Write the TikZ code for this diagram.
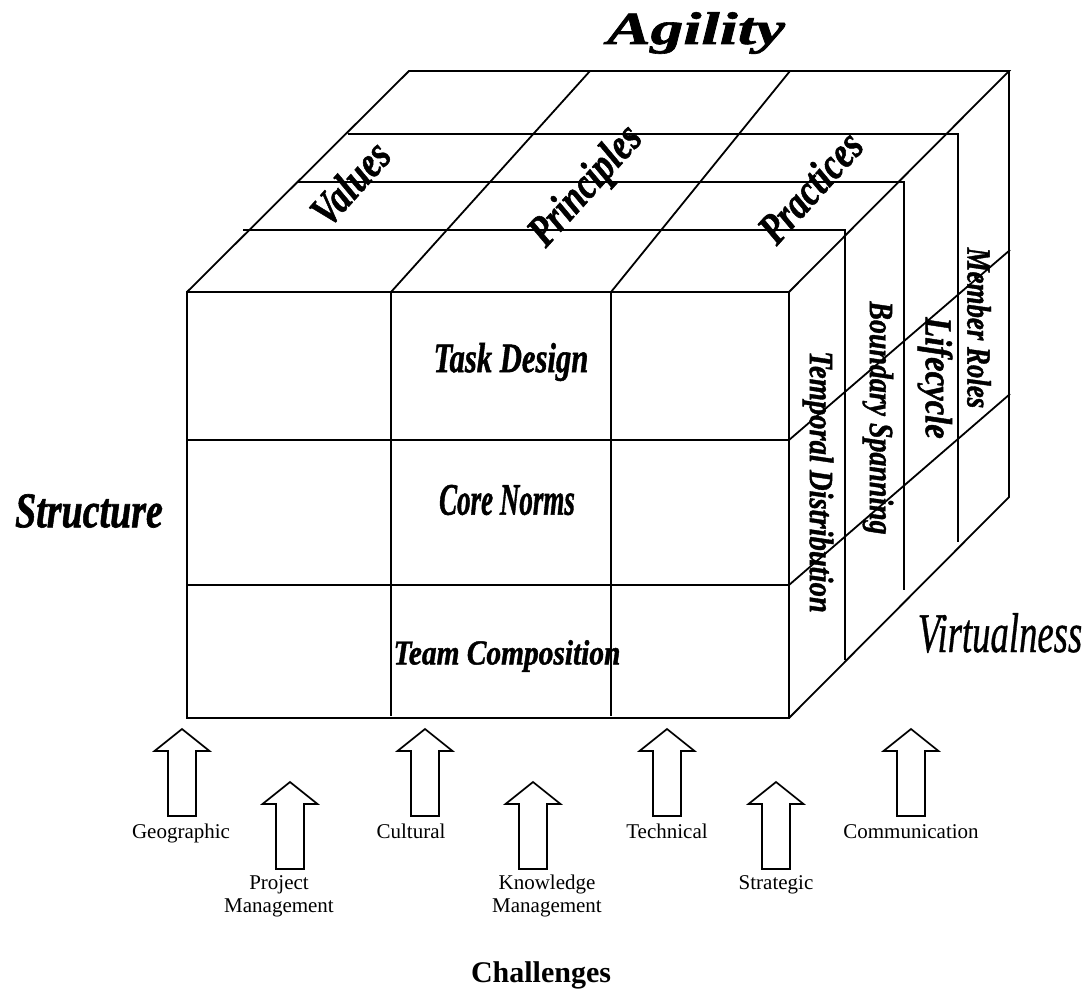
\documentclass[tikz,border=0pt]{standalone}
\usepackage{fontspec}
\setmainfont{Liberation Serif}
% a heavier serif for the cube labels
\newfontfamily\heavyserif{Liberation Serif}[BoldItalicFeatures={FakeBold=1.3}, ItalicFeatures={FakeBold=0.8}]
\usepackage{graphicx}
% bold italic label of a given size, squeezed or stretched horizontally
\newcommand{\bilabel}[3]{\scalebox{#2}[1]{\fontsize{#1}{#1}\selectfont\heavyserif\bfseries\itshape #3}}
% italic label of a given size, squeezed horizontally
\newcommand{\itlabel}[3]{\scalebox{#2}[1]{\fontsize{#1}{#1}\selectfont\heavyserif\itshape #3}}

\begin{document}
\begin{tikzpicture}[x=1pt,y=-1pt,
  edge/.style={line width=1.8pt, line join=miter},
  tag/.style={inner sep=0pt},
  challenge/.style={anchor=base, inner sep=0pt, font=\fontsize{21}{21}\selectfont},
  blockarrow/.pic={\draw[line width=1.7pt, line join=miter, fill=white]
      (0,0) -- (27.5,22) -- (14,22) -- (14,87) -- (-14,87) -- (-14,22) -- (-27.5,22) -- cycle;}]
\useasboundingbox (0,0) rectangle (1089,994);

% ---- corners of the cube
\coordinate (F1) at (187,292);
\coordinate (F2) at (789,292);
\coordinate (F3) at (789,718);
\coordinate (F4) at (187,718);
\coordinate (B1) at (409,71);
\coordinate (B2) at (1009,71);
\coordinate (B3) at (1009,497);

% ---- front face: structure rows and agility columns
\draw[edge] (F1) rectangle (F3);
\draw[edge] (187,440) -- (789,440);
\draw[edge] (187,585) -- (789,585);
\draw[edge] (391,292) -- (391,716);
\draw[edge] (611,292) -- (611,716);

% ---- top face
\draw[edge] (F1) -- (B1) -- (B2) -- (F2);
\draw[edge] (391,292) -- (590,71);
\draw[edge] (611,292) -- (790,71);

% ---- virtualness layers (top edge, then down the side)
\draw[edge] (243,230) -- (845,230) -- (845,660);
\draw[edge] (297,182) -- (904,182) -- (904,590);
\draw[edge] (348,134) -- (958,134) -- (958,542);

% ---- side face
\draw[edge] (B2) -- (B3) -- (F3);
\draw[edge] (789,440) -- (1010,250);
\draw[edge] (789,585) -- (1010,394);

% ---- dimension titles
\node[tag] (agility) at (696,33) {\bilabel{46}{1.42}{Agility}};
\node[tag] (structure) at (89,511) {\bilabel{50}{0.76}{Structure}};
\node[tag] (virtualness) at (1000,633) {\itlabel{56}{0.655}{Virtualness}};

% ---- agility labels on the top face
\node[tag, rotate=48] (values) at (350,183) {\bilabel{44}{0.8}{Values}};
\node[tag, rotate=48] (principles) at (587,187) {\bilabel{44}{0.8}{Principles}};
\node[tag, rotate=48] (practices) at (810,187) {\bilabel{44}{0.8}{Practices}};

% ---- structure labels on the front face
\node[tag] (task) at (511,362) {\bilabel{42}{0.73}{Task Design}};
\node[tag] (norms) at (507,500) {\bilabel{45}{0.6}{Core Norms}};
\node[tag] (composition) at (507,656) {\bilabel{35}{0.84}{Team Composition}};

% ---- virtualness labels on the side face
\node[tag, rotate=-90] (temporal) at (818,482) {\bilabel{34}{0.84}{Temporal Distribution}};
\node[tag, rotate=-90] (boundary) at (878,418) {\bilabel{34}{0.82}{Boundary Spanning}};
\node[tag, rotate=-90] (lifecycle) at (935,378) {\bilabel{38}{0.86}{Lifecycle}};
\node[tag, rotate=-90] (member) at (979,328) {\bilabel{34}{0.79}{Member Roles}};

% ---- challenge arrows
\pic (arrGeo)   at (182,729) {blockarrow};
\pic (arrProj)  at (290,782) {blockarrow};
\pic (arrCult)  at (425,729) {blockarrow};
\pic (arrKnow)  at (533,782) {blockarrow};
\pic (arrTech)  at (667,729) {blockarrow};
\pic (arrStrat) at (776,782) {blockarrow};
\pic (arrComm)  at (911,729) {blockarrow};

% ---- challenge labels
\node[challenge] (geo)   at (181,838) {Geographic};
\node[challenge] (proj)  at (279,889) {Project};
\node[challenge] (projm) at (279,912) {Management};
\node[challenge] (cult)  at (411,838) {Cultural};
\node[challenge] (know)  at (547,889) {Knowledge};
\node[challenge] (knowm) at (547,912) {Management};
\node[challenge] (tech)  at (667,838) {Technical};
\node[challenge] (strat) at (776,889) {Strategic};
\node[challenge] (comm)  at (911,838) {Communication};

\node[anchor=base, inner sep=0pt, font=\fontsize{30}{30}\selectfont\bfseries] (challenges) at (541,982) {Challenges};
\end{tikzpicture}
\end{document}
